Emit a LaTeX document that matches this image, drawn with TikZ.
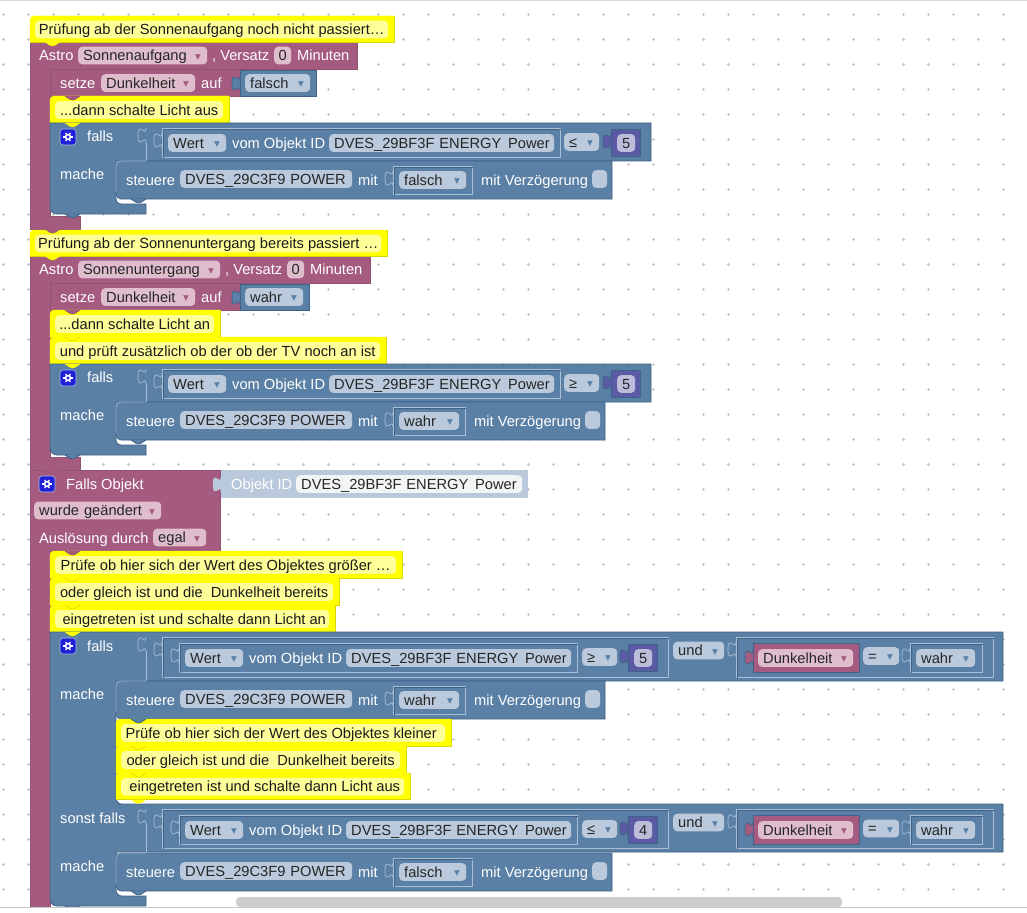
\documentclass[tikz,border=0pt]{standalone}
\usepackage{fontspec}
\setmainfont{Liberation Sans}
\newfontfamily\symfont{DejaVu Sans}
\usepackage{xcolor}
\usetikzlibrary{positioning, calc}

\definecolor{bkblue}{HTML}{5B80A5}
\definecolor{bkblueD}{HTML}{3F6288}
\definecolor{bkblueL}{HTML}{A9BFD6}
\definecolor{bkpurple}{HTML}{A55B80}
\definecolor{bkpurpleD}{HTML}{945273}
\definecolor{bknum}{HTML}{5B5BA5}
\definecolor{fldblue}{HTML}{BACADC}
\definecolor{fldpurple}{HTML}{DFBDCD}
\definecolor{fldnum}{HTML}{BDBDDB}
\definecolor{cmtfill}{HTML}{FFFF00}
\definecolor{cmtinner}{HTML}{FFFF99}
\definecolor{cmtline}{HTML}{D6D600}
\definecolor{ghost}{HTML}{B9C9DB}
\definecolor{gearblue}{HTML}{2020D8}

% dropdown marks
\newcommand{\dropb}{\raisebox{1.6pt}{\symfont\fontsize{7.5}{8}\selectfont\textcolor{bkblue}{▼}}\hskip1.2pt}
\newcommand{\dropp}{\raisebox{1.6pt}{\symfont\fontsize{7.5}{8}\selectfont\textcolor{bkpurple}{▼}}\hskip1.2pt}
\newcommand{\ddb}[1]{\hbox to \hsize{#1\hfil\dropb}}
\newcommand{\ddp}[1]{\hbox to \hsize{#1\hfil\dropp}}

% name, style, x, y, width, text
\newcommand{\fld}[6]{\node[#2, anchor=west, text width={#5-10}] (#1) at (#3,#4) {\mbox{#6}};}
\newcommand{\numfld}[6]{\node[#2, anchor=west, inner xsep=0pt, minimum width=#5] (#1) at (#3,#4) {#6};}
\newcommand{\lbl}[4]{\node[label] (#1) at (#2,#3) {#4};}
% name, x1, y1, x2, y2, text
\newcommand{\cmt}[6]{
  \draw[cmtbk, rounded corners=4] (#2,#5) -- (#2,#3) [sharp corners] -- (#4,#3) -- (#4,#5) -- cycle;
  \draw[cmtedge] (#2,#5) -| (#4,#3);
  \node[cmtfield, anchor=west, minimum width={#4-#2-11}] (#1) at (#2+5,{(#3+#5)/2+0.5}) {#6};}
% tabs and notches
\newcommand{\vtab}[3]{\draw[#1, shift={(#2,#3)}] (0,5) .. controls (0,15) and (-8,-3) .. (-8,12.5) .. controls (-8,28) and (0,10) .. (0,20);}
\newcommand{\notch}[3]{\draw[#1, shift={(#2,#3)}, rounded corners=1.5] (15,0) -- (21,4) -- (24,4) -- (30,0);}
% x1, y1, x2, y2
\newcommand{\valbox}[4]{
  \draw[boxlight] (#1,#2) rectangle (#3,#4);
  \draw[boxdark, shift={(1,1)}] (#1,#4) |- (#3,#2);
  \vtab{puzline}{#1}{#2+0}}
% name, x, y
\newcommand{\gear}[3]{
  \node[gearbox] (#1) at (#2,#3) {};
  \draw[gearline] ($(#1)+(-4.6,0)$) -- ($(#1)+(4.6,0)$);
  \draw[gearline] ($(#1)+(-2.3,-4)$) -- ($(#1)+(2.3,4)$);
  \draw[gearline] ($(#1)+(-2.3,4)$) -- ($(#1)+(2.3,-4)$);
  \fill[white] (#1) circle (3.3);
  \fill[gearblue] (#1) circle (1.6);}
% prefix, x, y, op text, number, op x, op width
\newcommand{\wertcond}[7]{
  \valbox{#2}{#3}{#2+398}{#3+29}
  \fld{#1w}{fldb}{#2+6}{#3+15}{58}{\ddb{Wert}}
  \lbl{#1v}{#2+70}{#3+15}{vom Objekt ID}
  \fld{#1o}{fldb}{#2+167}{#3+15}{225}{DVES\_29BF3F ENERGY~\hskip2pt Power}
  \fld{#1c}{fldb}{#2+#6}{#3+14}{#7}{\ddb{#4}}
  \draw[numbk] (#2+449,#3+1) rectangle (#2+478,#3+28);
  \vtab{numbk}{#2+449}{#3+1}
  \numfld{#1n}{fldn}{#2+455}{#3+15}{18}{#5}}
% prefix, y, value, box x2, label x, check x, x2
\newcommand{\steuere}[7]{
  \fill[bkblue] (116,#2) rectangle (122,#2+6);
  \draw[bluebk, rounded corners=5] (116,#2+20) -- (116,#2) [sharp corners] -- (#7,#2) -- (#7,#2+38) [rounded corners=5] -- (116,#2+38) -- cycle;
  \draw[puzline, rounded corners=5] (116,#2+31) -- (116,#2) -- (146,#2);
  \lbl{#1s}{126}{#2+19}{steuere}
  \fld{#1d}{fldb}{180}{#2+18}{172}{DVES\_29C3F9 POWER}
  \lbl{#1m}{358}{#2+19}{mit}
  \valbox{393}{#2+5}{#4}{#2+33}
  \fld{#1b}{fldb}{399}{#2+19}{#4-399-6}{\ddb{#3}}
  \lbl{#1z}{#5}{#2+19}{mit Verzögerung}
  \numfld{#1k}{fldb}{#6}{#2+18}{15}{}}

\begin{document}
\begin{tikzpicture}[x=1pt, y=-1pt,
  font=\fontsize{14.67}{16}\selectfont,
  griddot/.style={draw=black!22, line width=0.6pt},
  label/.style={anchor=west, inner sep=0pt, text=white, text height=12pt, text depth=1.7pt},
  fldb/.style={rounded corners=4, fill=fldblue, inner xsep=5pt, inner ysep=2pt, text=black!85, text height=12pt, text depth=1.7pt, align=left},
  fldp/.style={fldb, fill=fldpurple},
  fldn/.style={fldb, fill=fldnum},
  fldg/.style={fldb, fill=black!3!white!92!fldblue},
  bluebk/.style={fill=bkblue, draw=bkblueD, line width=0.7pt},
  purpbk/.style={fill=bkpurple, draw=bkpurpleD, line width=0.7pt},
  numbk/.style={fill=bknum, draw=bkblueD, line width=0.7pt},
  purpbkB/.style={fill=bkpurple, draw=bkblueD, line width=0.7pt},
  ghostbk/.style={fill=ghost, draw=ghost},
  cmtbk/.style={fill=cmtfill, draw=cmtfill},
  cmtnotch/.style={fill=cmtfill, draw=cmtline, line width=0.5pt},
  cmtedge/.style={draw=cmtline, line width=0.7pt},
  cmtfield/.style={rounded corners=4, fill=cmtinner, inner xsep=0pt, inner ysep=2pt, text=black!90, text height=12pt, text depth=1.7pt},
  boxlight/.style={draw=bkblueL, line width=0.7pt},
  boxdark/.style={draw=bkblueD, line width=0.7pt},
  puzline/.style={draw=bkblueL, line width=0.7pt},
  gearbox/.style={rectangle, rounded corners=3, fill=gearblue, draw=bkblueL, line width=0.6pt, minimum width=16, minimum height=16, inner sep=0pt},
  gearline/.style={draw=white, line width=1.3pt}
]
  \useasboundingbox (0,0) rectangle (1027,912);
  \fill[white] (0,0) rectangle (1027,912);

  % Grid
  \foreach \i in {0,...,40} {
    \foreach \j in {0,...,35} {
      \draw[griddot] (3.3+25*\i-1.5,14.3+25*\j) -- (3.3+25*\i+1.5,14.3+25*\j);
      \draw[griddot] (3.3+25*\i,14.3+25*\j-1.5) -- (3.3+25*\i,14.3+25*\j+1.5);
    }
  }

  % First astro block
  \draw[purpbk] (30,42) -- (357,42) -- (357,69) -- (50,69) -- (50,216) -- (80,216) -- (80,229) -- (30,229) -- cycle;
  \lbl{astroa}{39}{55.5}{Astro}
  \fld{astroaf}{fldp}{78}{55.5}{129}{\ddp{Sonnenaufgang}}
  \lbl{astroav}{212}{55.5}{, Versatz}
  \numfld{astroan}{fldp}{274}{55.5}{17}{0}
  \lbl{astroam}{297}{55.5}{Minuten}
  \draw[purpbk] (50,69) -- (240,69) -- (240,96) -- (50,96) -- cycle;
  \lbl{setzea}{60}{83}{setze}
  \fld{setzeaf}{fldp}{101}{83}{94}{\ddp{Dunkelheit}}
  \lbl{setzeau}{201}{83}{auf}
  \draw[bluebk] (240,70) rectangle (316,96);
  \vtab{bluebk}{240}{71}
  \fld{setzeab}{fldb}{245}{83}{65}{\ddb{falsch}}
  \cmt{cmta}{30}{16}{394}{42}{Prüfung ab der Sonnenaufgang noch nicht passiert…}
  \cmt{cmtb}{50}{96}{229}{123}{...dann schalte Licht aus}

  % First condition
  \draw[bluebk] (50,123) -- (651,123) -- (651,161) -- (116,161) -- (116,198) .. controls (116,202) and (118,204) .. (122,204) -- (146,204) -- (146,214) -- (57,214) .. controls (53,214) and (50,211) .. (50,207) -- cycle;
  \gear{gearA}{68}{137}
  \lbl{fallsa}{87}{136}{falls}
  \lbl{machea}{60}{174}{mache}
  \vtab{puzline}{146}{123}
  \draw[puzline] (146,143) -- (146,161);
  \wertcond{wa}{162}{128}{≤}{5}{402}{35}
  \steuere{sa}{161}{falsch}{472}{481}{592}{612}

  % Second astro block
  \draw[purpbk] (30,256) -- (370,256) -- (370,283) -- (50,283) -- (50,457) -- (80,457) -- (80,470) -- (30,470) -- cycle;
  \lbl{astrob}{39}{269.5}{Astro}
  \fld{astrobf}{fldp}{78}{269.5}{142}{\ddp{Sonnenuntergang}}
  \lbl{astrobv}{225}{269.5}{, Versatz}
  \numfld{astrobn}{fldp}{287}{269.5}{17}{0}
  \lbl{astrobm}{310}{269.5}{Minuten}
  \draw[purpbk] (50,283) -- (240,283) -- (240,310) -- (50,310) -- cycle;
  \lbl{setzeb}{60}{297}{setze}
  \fld{setzebf}{fldp}{101}{297}{94}{\ddp{Dunkelheit}}
  \lbl{setzebu}{201}{297}{auf}
  \draw[bluebk] (240,284) rectangle (309,310);
  \vtab{bluebk}{240}{285}
  \fld{setzebb}{fldb}{245}{297}{58}{\ddb{wahr}}
  \cmt{cmtc}{30}{230}{387}{256}{Prüfung ab der Sonnenuntergang bereits passiert …}
  \cmt{cmtd}{50}{310}{220}{337}{...dann schalte Licht an}
  \cmt{cmte}{50}{337}{386}{364}{und prüft zusätzlich ob der ob der TV noch an ist}

  % Second condition
  \draw[bluebk] (50,364) -- (651,364) -- (651,402) -- (116,402) -- (116,439) .. controls (116,443) and (118,445) .. (122,445) -- (146,445) -- (146,455) -- (57,455) .. controls (53,455) and (50,452) .. (50,448) -- cycle;
  \gear{gearB}{68}{378}
  \lbl{fallsb}{87}{377}{falls}
  \lbl{macheb}{60}{415}{mache}
  \vtab{puzline}{146}{364}
  \draw[puzline] (146,384) -- (146,402);
  \wertcond{wb}{162}{369}{≥}{5}{402}{35}
  \steuere{sb}{402}{wahr}{465}{474}{585}{605}

  % Object trigger
  \draw[purpbk] (30,470) -- (220,470) -- (220,551) -- (50,551) -- (50,907) -- (30,907) -- cycle;
  \gear{gearC}{47}{484}
  \lbl{trig}{66}{484}{Falls Objekt}
  \fill[ghostbk] (221,470) rectangle (527,497);
  \vtab{ghostbk}{221}{472}
  \lbl{trigid}{231}{484}{Objekt ID}
  \fld{trigobj}{fldg}{296}{484}{226}{DVES\_29BF3F ENERGY~\hskip2pt Power}
  \fld{trigwas}{fldp}{34}{510.5}{127}{\ddp{wurde geändert}}
  \lbl{trigby}{39}{538}{Auslösung durch}
  \fld{trigegal}{fldp}{153}{537.5}{53}{\ddp{egal}}
  \cmt{cmtf}{50}{551}{402}{578}{Prüfe ob hier sich der Wert des Objektes größer …}
  \cmt{cmtg}{50}{578}{339}{605}{oder gleich ist und die~ Dunkelheit bereits}
  \cmt{cmth}{50}{605}{335}{632}{~eingetreten ist und schalte dann Licht an}

  % Third condition with its else branch
  \draw[bluebk] (50,632) -- (1003,632) -- (1003,681) -- (116,681) -- (116,797) .. controls (116,801) and (118,804) .. (122,804) -- (1003,804) -- (1003,852) -- (116,852) -- (116,889) .. controls (116,893) and (118,896) .. (122,896) -- (146,896) -- (146,906) -- (57,906) .. controls (53,906) and (50,903) .. (50,899) -- cycle;
  \gear{gearD}{68}{646}
  \lbl{fallsc}{87}{646}{falls}
  \lbl{machec}{60}{694}{mache}
  \lbl{fallsd}{60}{818}{sonst falls}
  \lbl{ached}{60}{866}{mache}
  \vtab{puzline}{146}{632}
  \draw[puzline] (146,652) -- (146,681);
  \vtab{puzline}{146}{804}
  \draw[puzline] (146,824) -- (146,852);

  \valbox{162}{637}{668}{677}
  \wertcond{wc}{179}{643}{≥}{5}{403}{35}
  \fld{undc}{fldb}{673}{650.5}{51}{\ddb{und}}
  \valbox{736}{637}{993}{677}
  \draw[purpbkB] (753,643) rectangle (859,672);
  \vtab{purpbkB}{753}{645}
  \fld{dunkc}{fldp}{758}{658}{95}{\ddp{Dunkelheit}}
  \fld{eqc}{fldb}{863}{656}{36}{\ddb{=}}
  \valbox{910}{643}{982}{672}
  \fld{wahrc}{fldb}{916}{658}{59}{\ddb{wahr}}

  \valbox{162}{809}{668}{848}
  \wertcond{wd}{179}{815}{≤}{4}{403}{35}
  \fld{undd}{fldb}{673}{822.5}{51}{\ddb{und}}
  \valbox{736}{809}{993}{848}
  \draw[purpbkB] (753,815) rectangle (859,844);
  \vtab{purpbkB}{753}{817}
  \fld{dunkd}{fldp}{758}{830}{95}{\ddp{Dunkelheit}}
  \fld{eqd}{fldb}{863}{828.5}{36}{\ddb{=}}
  \valbox{910}{815}{982}{844}
  \fld{wahrd}{fldb}{916}{830}{59}{\ddb{wahr}}

  \steuere{sc}{681}{wahr}{465}{474}{585}{605}
  \cmt{cmti}{116}{719}{451}{746}{Prüfe ob hier sich der Wert des Objektes kleiner~\null}
  \cmt{cmtj}{116}{746}{406}{773}{oder gleich ist und die~ Dunkelheit bereits}
  \cmt{cmtk}{116}{773}{410}{799.5}{~eingetreten ist und schalte dann Licht aus}
  \steuere{sd}{853}{falsch}{472}{481}{592}{612}

  % Tabs hanging from the blocks
  \notch{cmtbk}{30}{42}
  \notch{cmtbk}{30}{256}
  \notch{purpbk}{30}{229}
  \notch{purpbk}{30}{470}
  \notch{purpbk}{50}{96}
  \notch{purpbk}{50}{310}
  \notch{purpbk}{50}{551}
  \notch{cmtbk}{50}{123}
  \notch{cmtnotch}{50}{337}
  \notch{cmtbk}{50}{364}
  \notch{cmtnotch}{50}{578}
  \notch{cmtnotch}{50}{605}
  \notch{cmtbk}{50}{632}
  \notch{bluebk}{50}{214}
  \notch{bluebk}{50}{455}
  \notch{bluebk}{50}{906}
  \notch{bluebk}{116}{199}
  \notch{bluebk}{116}{440}
  \notch{bluebk}{116}{719}
  \notch{bluebk}{116}{891}
  \notch{cmtnotch}{116}{746}
  \notch{cmtnotch}{116}{773}
  \notch{cmtbk}{116}{799.5}

  % Window edges and scrollbar
  \fill[white] (0,907) rectangle (1027,912);
  \draw[black!14, line width=1pt] (0,1) -- (1027,1);
  \draw[black!22, line width=1pt] (0,907.5) -- (1027,907.5);
  \fill[black!20, rounded corners=4] (236,897) rectangle (842,907);
\end{tikzpicture}
\end{document}
